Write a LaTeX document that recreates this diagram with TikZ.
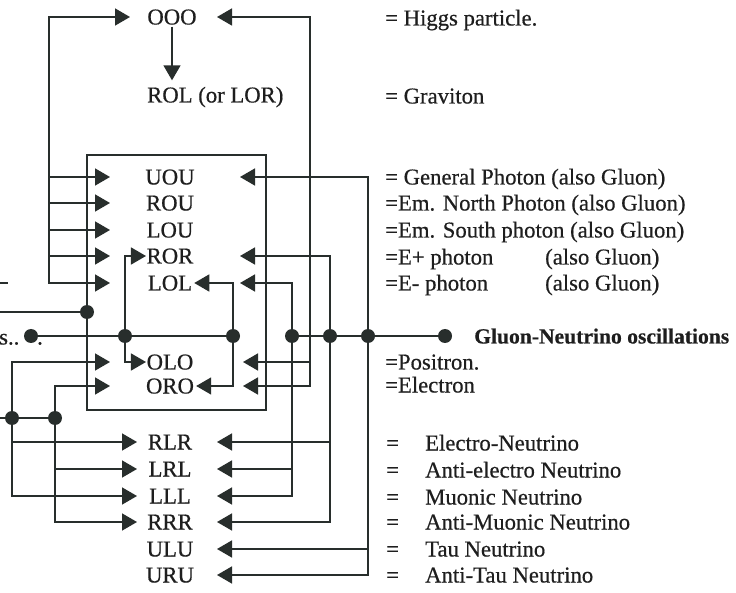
\documentclass[tikz,border=0pt]{standalone}
\usepackage{fontspec}
\setmainfont{Liberation Serif}[FakeBold=0.5]
\usetikzlibrary{arrows.meta,calc}
\definecolor{lc}{RGB}{40,46,44}
\definecolor{tc}{RGB}{30,30,30}
\begin{document}
\begin{tikzpicture}[x=1pt,y=-1pt,
  every node/.style={font=\fontsize{22.7}{27}\selectfont, text=tc, inner sep=0pt, text height=15pt, text depth=0pt},
  code/.style={anchor=center},
  desc/.style={anchor=west},
  wire/.style={draw=lc, line width=1.5pt, line join=miter},
  arr/.style={wire, -{Triangle[length=15pt,width=17pt]}},
  arrtwo/.style={wire, {Triangle[length=15pt,width=17pt]}-{Triangle[length=15pt,width=17pt]}},
  junc/.style={circle, fill=lc, minimum size=14pt, inner sep=0pt, text height=0pt, text depth=0pt},
  boxst/.style={draw=lc, line width=1.5pt, text height=0pt, text depth=0pt, minimum width=179pt, minimum height=255pt}]
\useasboundingbox (0,0) rectangle (736,593);
\fill[white] (0,0) rectangle (736,593);

% column coordinates
\coordinate (xA) at (12,0);
\coordinate (xC) at (49,0);
\coordinate (xD) at (55,0);
\coordinate (xE) at (125,0);
\coordinate (xF) at (233,0);
\coordinate (xG) at (292,0);
\coordinate (xH) at (310,0);
\coordinate (xI) at (330,0);
\coordinate (xJ) at (368,0);
\coordinate (tL1) at (110,0);
\coordinate (tL2) at (137,0);
\coordinate (tR1) at (240,0);
\coordinate (tR2) at (243,0);
\coordinate (tR3) at (217,0);
\coordinate (tOL) at (130,0);
\coordinate (tOR) at (217,0);

% box
\node[boxst] (box) at (176.5,282.5) {};

% codes
\node[code] (OOO) at (172,17) {OOO};
\node[anchor=west] (ROL) at (147,95) {ROL (or LOR)};
\node[code] (UOU) at (170,177) {UOU};
\node[code] (ROU) at (170,203) {ROU};
\node[code] (LOU) at (170,230) {LOU};
\node[code] (ROR) at (170,256) {ROR};
\node[code] (LOL) at (170,283) {LOL};
\node[code] (OLO) at (170,362) {OLO};
\node[code] (ORO) at (170,386) {ORO};
\node[code] (RLR) at (170,442) {RLR};
\node[code] (LRL) at (170,469) {LRL};
\node[code] (LLL) at (170,496) {LLL};
\node[code] (RRR) at (170,522) {RRR};
\node[code] (ULU) at (170,549) {ULU};
\node[code] (URU) at (170,575) {URU};

% descriptions
\node[desc] (dOOO) at (385,18) {= Higgs particle.};
\node[desc] (dROL) at (385,96) {= Graviton};
\node[desc] (dUOU) at (385,177) {= General Photon (also Gluon)};
\node[desc] (dROU) at (385,203) {=Em. North Photon (also Gluon)};
\node[desc] (dLOU) at (385,230) {=Em. South photon (also Gluon)};
\node[desc] (dROR) at (385,257) {=E+ photon};
\node[desc] (gROR) at (545,257) {(also Gluon)};
\node[desc] (dLOL) at (385,283) {=E- photon};
\node[desc] (gLOL) at (545,283) {(also Gluon)};
\node[desc] (dOLO) at (385,362) {=Positron.};
\node[desc] (dORO) at (385,385) {=Electron};
\node[desc] (dRLR) at (386,443) {\makebox[39pt][l]{=}Electro-Neutrino};
\node[desc] (dLRL) at (386,470) {\makebox[39pt][l]{=}Anti-electro Neutrino};
\node[desc] (dLLL) at (386,497) {\makebox[39pt][l]{=}Muonic Neutrino};
\node[desc] (dRRR) at (386,522) {\makebox[39pt][l]{=}Anti-Muonic Neutrino};
\node[desc] (dULU) at (386,549) {\makebox[39pt][l]{=}Tau Neutrino};
\node[desc] (dURU) at (386,575) {\makebox[39pt][l]{=}Anti-Tau Neutrino};
\node[desc, font=\fontsize{21.6}{26}\selectfont\bfseries] (gno) at (474,336) {Gluon-Neutrino oscillations};
\node[anchor=west] (sdots) at (-1,337) {s..};
\node[code] (sdot) at (40,337) {.};

% outer left trunk (to OOO and box rows)
\draw[arrtwo] (tL1 |- LOL) -- (xC |- LOL) -- (xC |- OOO) -- (tOL |- OOO);
\foreach \n in {UOU,ROU,LOU,ROR} \draw[arr] (xC |- \n) -- (tL1 |- \n);
% outer right trunk
\draw[arrtwo] (tR2 |- ORO) -- (xH |- ORO) -- (xH |- OOO) -- (tOR |- OOO);
\draw[arr] (xH |- OLO) -- (tR2 |- OLO);
% OOO -> ROL
\draw[arr, shorten <=2pt, shorten >=7pt] (OOO.south) -- (OOO.south |- ROL.north);

% inner loops
\draw[arrtwo, shorten <=0.5pt, shorten >=0.5pt] (ROR.west) -- (xE |- ROR) -- (xE |- OLO) -- (OLO.west);
\draw[arrtwo, shorten <=2pt, shorten >=2pt] (LOL.east) -- (xF |- LOL) -- (xF |- ORO) -- (ORO.east);

% right verticals
\draw[arrtwo] (tR3 |- LLL) -- (xG |- LLL) -- (xG |- LOL) -- (tR1 |- LOL);
\draw[arr] (xG |- LRL) -- (tR3 |- LRL);
\draw[arrtwo] (tR3 |- RRR) -- (xI |- RRR) -- (xI |- ROR) -- (tR1 |- ROR);
\draw[arr] (xI |- RLR) -- (tR3 |- RLR);
\draw[arrtwo] (tR3 |- URU) -- (xJ |- URU) -- (xJ |- UOU) -- (tR1 |- UOU);
\draw[arr] (xJ |- ULU) -- (tR3 |- ULU);

% left verticals
\draw[arrtwo] (tL2 |- LLL) -- (xA |- LLL) -- (xA |- OLO) -- (tL1 |- OLO);
\draw[arr] (xA |- RLR) -- (tL2 |- RLR);
\draw[arrtwo] (tL2 |- RRR) -- (xD |- RRR) -- (xD |- ORO) -- (tL1 |- ORO);
\draw[arr] (xD |- LRL) -- (tL2 |- LRL);

% junction dots
\node[junc] (jS) at (31,336) {};
\node[junc] (jE) at (xE |- jS) {};
\node[junc] (jF) at (xF |- jS) {};
\node[junc] (jG) at (xG |- jS) {};
\node[junc] (jI) at (xI |- jS) {};
\node[junc] (jJ) at (xJ |- jS) {};
\node[junc] (jK) at (445,336) {};
\node[junc] (jBox) at (87,312) {};
\node[junc] (jA) at (12,418) {};
\node[junc] (jD) at (55,418) {};
\coordinate (eBox) at (0,312);
\coordinate (eAD) at (0,418);
\coordinate (eDash1) at (0,283);
\coordinate (eDash2) at (8,283);

% gluon line and left stubs
\draw[wire] (jS) -- (jF);
\draw[wire] (jG) -- (jK);
\draw[wire] (eBox) -- (jBox);
\draw[wire] (eAD) -- (jD);
\draw[wire] (eDash1) -- (eDash2);
\end{tikzpicture}
\end{document}
